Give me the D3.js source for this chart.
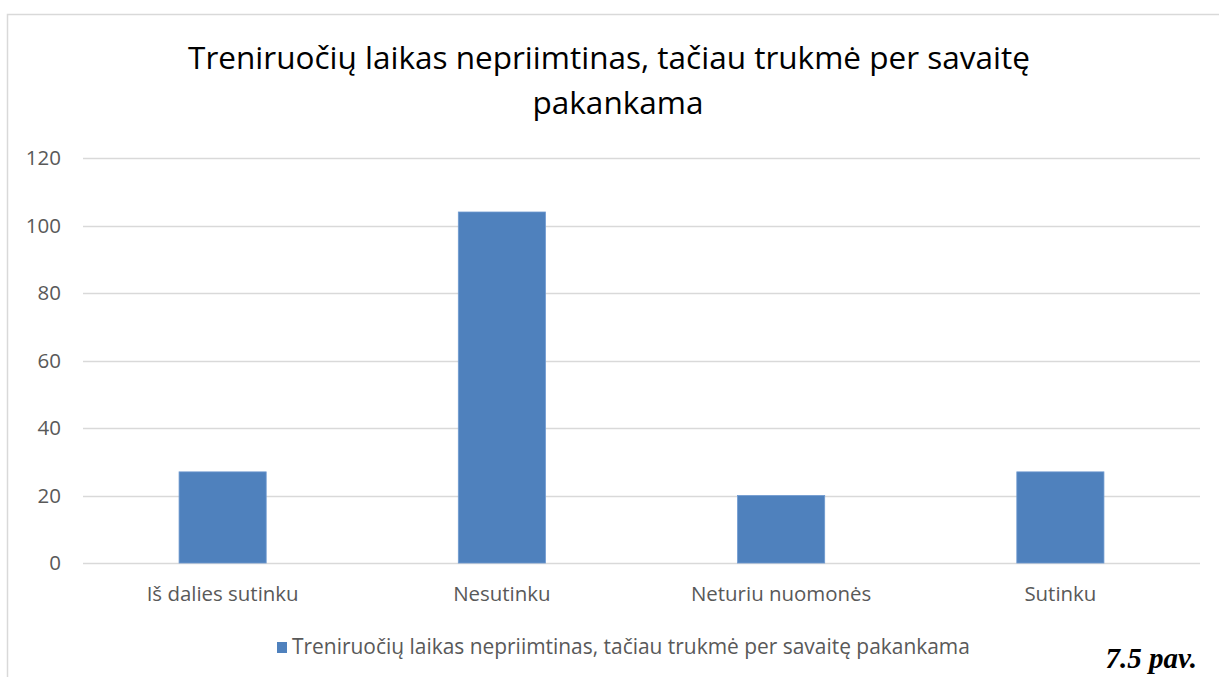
<!DOCTYPE html>
<html><head><meta charset="utf-8">
<script src="https://cdn.jsdelivr.net/npm/d3@7"></script>
<style>body{margin:0;background:#fff}svg{display:block}</style>
</head><body>
<svg id="c" width="1219" height="677"></svg>
<script>
const categories = ["Iš dalies sutinku", "Nesutinku", "Neturiu nuomonės", "Sutinku"];
const values = [27, 104, 20, 27];
const yTicks = [0, 20, 40, 60, 80, 100, 120];
const seriesName = "Treniruočių laikas nepriimtinas, tačiau trukmė per savaitę pakankama";
const titleLines = ["Treniruočių laikas nepriimtinas, tačiau trukmė per savaitę", "pakankama"];
const figLabel = "7.5 pav.";

const svg = d3.select("#c");
const font = "'Open Sans', 'Noto Sans', sans-serif";

// chart frame
svg.append("rect").attr("x", 7.5).attr("y", 14.5).attr("width", 1230).attr("height", 700)
  .attr("fill", "#fff").attr("stroke", "#D9D9D9").attr("stroke-width", 1.5);

const x = d3.scaleBand().domain(categories).range([83, 1200]).paddingInner(0.688).paddingOuter(0.344);
const y = d3.scaleLinear().domain([0, 120]).range([563, 158]);

function fit(sel, w) {
  const node = sel.node();
  let fs = parseFloat(sel.attr("font-size"));
  const cw = node.getComputedTextLength();
  sel.attr("font-size", (fs * w / cw).toFixed(2));
}

// gridlines
svg.append("g").selectAll("line").data(yTicks).join("line")
  .attr("x1", 83).attr("x2", 1200)
  .attr("y1", d => Math.round(y(d)) + 0.5).attr("y2", d => Math.round(y(d)) + 0.5)
  .attr("stroke", "#D9D9D9").attr("stroke-width", 1.5);

// y axis labels
const yAxis = d3.axisLeft(y).tickValues(yTicks).tickSize(0).tickPadding(0);
const gy = svg.append("g").attr("transform", "translate(61,0)").call(yAxis);
gy.select(".domain").remove();
gy.selectAll("text").attr("font-family", font).attr("font-size", 20.5).attr("fill", "#595959").attr("dy", "0.34em");

// bars
svg.append("g").selectAll("rect").data(values).join("rect")
  .attr("x", (d, i) => x(categories[i]))
  .attr("width", x.bandwidth())
  .attr("y", d => y(d))
  .attr("height", d => y(0) - y(d))
  .attr("fill", "#4F81BD").attr("stroke", "#6F9AD0").attr("stroke-width", 0.8);

// x axis labels
const xAxis = d3.axisBottom(x).tickSize(0).tickPadding(0);
const gx = svg.append("g").attr("transform", "translate(0,601)").call(xAxis);
gx.select(".domain").remove();
gx.selectAll("text").attr("font-family", font).attr("font-size", 19).attr("fill", "#595959").attr("dy", 0);
fit(gx.select("text"), 152);
const catFs = gx.select("text").attr("font-size");
gx.selectAll("text").attr("font-size", catFs);

// title
const t1 = svg.append("text").attr("x", 609).attr("y", 69).attr("text-anchor", "middle")
  .attr("font-family", font).attr("font-size", 30).attr("fill", "#000").text(titleLines[0]);
fit(t1, 842);
svg.append("text").attr("x", 618).attr("y", 114).attr("text-anchor", "middle")
  .attr("font-family", font).attr("font-size", t1.attr("font-size")).attr("fill", "#000").text(titleLines[1]);

// legend
svg.append("rect").attr("x", 277).attr("y", 642).attr("width", 10).attr("height", 11).attr("fill", "#4F81BD");
const lt = svg.append("text").attr("x", 292).attr("y", 654)
  .attr("font-family", font).attr("font-size", 19).attr("fill", "#595959").text(seriesName);
fit(lt, 678);

// figure label
const fl = svg.append("text").attr("x", 1197).attr("y", 668).attr("text-anchor", "end")
  .attr("font-family", "'Liberation Serif', 'Times New Roman', serif").attr("font-weight", "bold")
  .attr("font-style", "italic").attr("font-size", 29).attr("fill", "#000").text(figLabel);
</script>
</body></html>
